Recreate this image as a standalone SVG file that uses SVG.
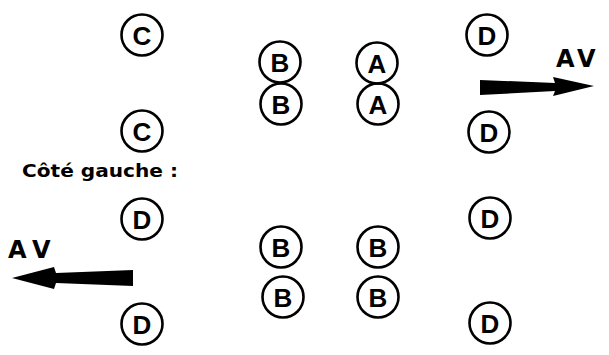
<svg xmlns="http://www.w3.org/2000/svg" width="609" height="355" viewBox="0 0 609 355">
<style>
.n circle{fill:none;stroke:#000;stroke-width:2.6}
.n text{font-family:"Liberation Sans",Arial,sans-serif;font-weight:bold;font-size:26px;text-anchor:middle;fill:#000}
.lbl{font-family:"DejaVu Sans","Liberation Sans",sans-serif;font-weight:bold;fill:#000}
</style>
<rect width="609" height="355" fill="#fff"/>
<g id="C1" class="n"><circle cx="142" cy="35" r="20.5"/><text x="142" y="44.5">C</text></g>
<g id="C2" class="n"><circle cx="142" cy="131" r="20.5"/><text x="142" y="140.5">C</text></g>
<g id="B1" class="n"><circle cx="280" cy="62" r="20.5"/><text x="280" y="71.5">B</text></g>
<g id="B2" class="n"><circle cx="281" cy="104" r="20.5"/><text x="281" y="113.5">B</text></g>
<g id="A1" class="n"><circle cx="377" cy="63" r="20.5"/><text x="377" y="72.5">A</text></g>
<g id="A2" class="n"><circle cx="378" cy="104" r="20.5"/><text x="378" y="113.5">A</text></g>
<g id="D1" class="n"><circle cx="487" cy="35" r="20.5"/><text x="487" y="44.5">D</text></g>
<g id="D2" class="n"><circle cx="489" cy="132" r="20.5"/><text x="489" y="141.5">D</text></g>
<g id="D3" class="n"><circle cx="490" cy="218" r="20.5"/><text x="490" y="227.5">D</text></g>
<g id="D4" class="n"><circle cx="490" cy="323" r="20.5"/><text x="490" y="332.5">D</text></g>
<g id="D5" class="n"><circle cx="142" cy="219" r="20.5"/><text x="142" y="228.5">D</text></g>
<g id="D6" class="n"><circle cx="142" cy="324" r="20.5"/><text x="142" y="333.5">D</text></g>
<g id="B3" class="n"><circle cx="281" cy="247" r="20.5"/><text x="281" y="256.5">B</text></g>
<g id="B4" class="n"><circle cx="283" cy="297" r="20.5"/><text x="283" y="306.5">B</text></g>
<g id="B5" class="n"><circle cx="378" cy="247" r="20.5"/><text x="378" y="256.5">B</text></g>
<g id="B6" class="n"><circle cx="378" cy="297" r="20.5"/><text x="378" y="306.5">B</text></g>
<g id="labels">
<text class="lbl" x="22" y="177" font-size="18" textLength="156" lengthAdjust="spacingAndGlyphs">Côté gauche :</text>
<text class="lbl" x="556" y="67" font-size="24" letter-spacing="4">AV</text>
<text class="lbl" x="8" y="258" font-size="24" letter-spacing="7">AV</text>
</g>
<g id="connectors">
<polygon points="480,80 555,83 553,77 594,86 553,96 555,91 480,95" fill="#000"/>
<polygon points="133,270 56,273 54,267 12,278 54,289 56,283 133,286" fill="#000"/>
</g>
</svg>
